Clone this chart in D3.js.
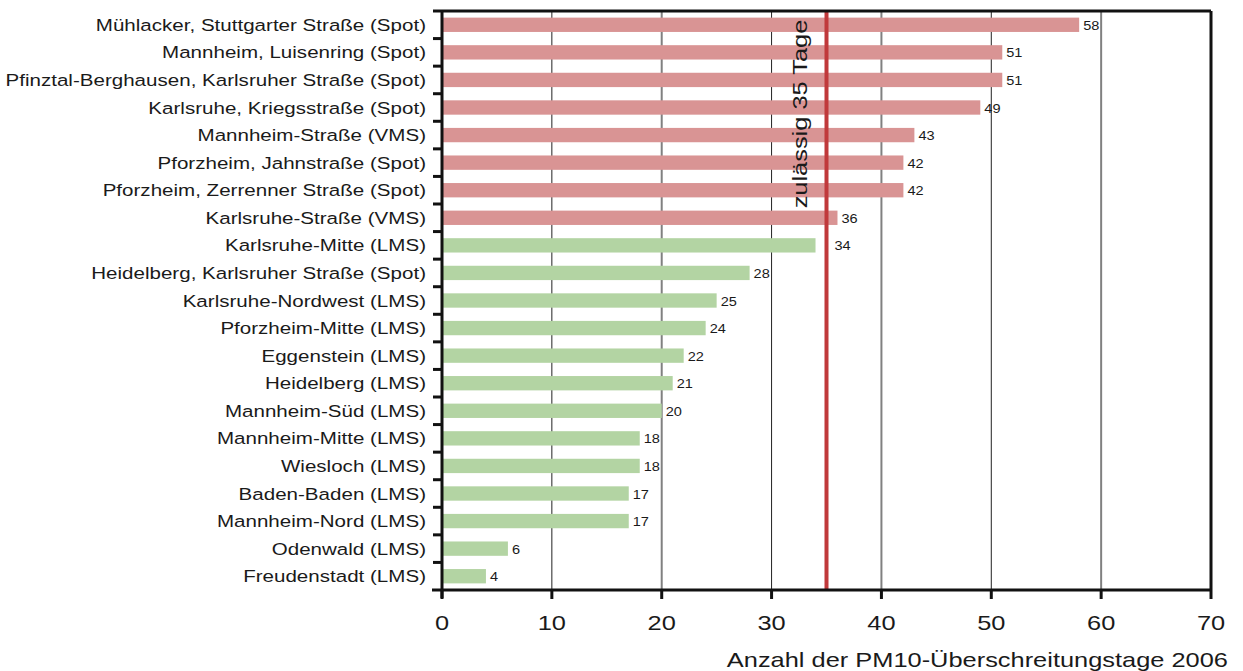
<!DOCTYPE html>
<html><head><meta charset="utf-8">
<script src="https://cdn.jsdelivr.net/npm/d3@7"></script>
<style>body{margin:0;background:#fff}svg text{font-family:"Liberation Sans",Arial,sans-serif}</style>
</head><body><svg id="c" width="1243" height="671"></svg>
<script>
const categories = ["Mühlacker, Stuttgarter Straße (Spot)","Mannheim, Luisenring (Spot)","Pfinztal-Berghausen, Karlsruher Straße (Spot)","Karlsruhe, Kriegsstraße (Spot)","Mannheim-Straße (VMS)","Pforzheim, Jahnstraße (Spot)","Pforzheim, Zerrenner Straße (Spot)","Karlsruhe-Straße (VMS)","Karlsruhe-Mitte (LMS)","Heidelberg, Karlsruher Straße (Spot)","Karlsruhe-Nordwest (LMS)","Pforzheim-Mitte (LMS)","Eggenstein (LMS)","Heidelberg (LMS)","Mannheim-Süd (LMS)","Mannheim-Mitte (LMS)","Wiesloch (LMS)","Baden-Baden (LMS)","Mannheim-Nord (LMS)","Odenwald (LMS)","Freudenstadt (LMS)"];
const values = [58,51,51,49,43,42,42,36,34,28,25,24,22,21,20,18,18,17,17,6,4];
const xTicks = [0,10,20,30,40,50,60,70];
const limit = 35;
const limitLabel = "zulässig 35 Tage";
const xTitle = "Anzahl der PM10-Überschreitungstage 2006";

const SX = 1.21; // horizontal stretch of the reference typeface
const svg = d3.select("#c");
const L=442, R=1211, T=11, B=590;
const x = d3.scaleLinear().domain([0,70]).range([L,R]);
const y = d3.scaleBand().domain(categories).range([T,B]).paddingInner(0.48).paddingOuter(0.24);

function stext(g, tx, ty, size, anchor, str){
  return g.append("text").attr("transform",`translate(${tx},${ty}) scale(${SX},1)`)
    .attr("text-anchor",anchor).attr("font-size",size).attr("fill","#1a1a1a").text(str);
}

// grid
svg.append("g").selectAll("line").data(xTicks.filter(d=>d>0&&d<70)).join("line")
  .attr("x1",d=>x(d)).attr("x2",d=>x(d)).attr("y1",T).attr("y2",B)
  .attr("stroke",(d,i)=>i%2===0?"#222":"#808080").attr("stroke-width",(d,i)=>i%2===0?1:2);

// bars
svg.append("g").selectAll("rect").data(values).join("rect")
  .attr("x",x(0)).attr("y",(d,i)=>y(categories[i]))
  .attr("width",d=>x(d)-x(0)).attr("height",y.bandwidth())
  .attr("fill",d=>d>limit?"#d99494":"#b3d4a3");

// value labels
const vg = svg.append("g");
values.forEach((d,i)=>{
  let lx = x(d)+4;
  if (d<=limit && x(d)+4+18 > x(limit)-2) lx = x(limit)+8;
  stext(vg, lx, y(categories[i])+y.bandwidth()/2+5, 13, "start", d).attr("font-size",13).attr("transform",`translate(${lx},${y(categories[i])+y.bandwidth()/2+5}) scale(1.12,1)`);
});

// limit line
svg.append("line").attr("x1",x(limit)).attr("x2",x(limit)).attr("y1",T).attr("y2",B)
  .attr("stroke","#c0393b").attr("stroke-width",4);
svg.append("text").attr("transform",`translate(${x(limit)-20},114) rotate(-90) scale(${SX},1)`)
  .attr("text-anchor","middle").attr("font-size",21).attr("fill","#1a1a1a").text(limitLabel);

// frame
svg.append("line").attr("x1",L).attr("x2",R).attr("y1",T).attr("y2",T).attr("stroke","#111").attr("stroke-width",3);
svg.append("line").attr("x1",R).attr("x2",R).attr("y1",T).attr("y2",B).attr("stroke","#111").attr("stroke-width",3);

// y axis
const ya = svg.append("g").attr("transform",`translate(${L},0)`);
ya.append("line").attr("x1",0).attr("x2",0).attr("y1",T).attr("y2",B+8).attr("stroke","#111").attr("stroke-width",3);
const step = y.step();
ya.selectAll("line.t").data(d3.range(categories.length)).join("line").attr("class","t")
  .attr("x1",-9).attr("x2",0)
  .attr("y1",i=>T+i*step).attr("y2",i=>T+i*step).attr("stroke","#111").attr("stroke-width",3);
const cg = svg.append("g");
categories.forEach(c=>stext(cg, 426, y(c)+y.bandwidth()/2+6, 17, "end", c));

// x axis
const xa = svg.append("g").attr("transform",`translate(0,${B})`);
xa.append("line").attr("x1",L-10).attr("x2",R+1).attr("stroke","#111").attr("stroke-width",3);
xa.selectAll("line.t").data(xTicks).join("line").attr("class","t")
  .attr("x1",d=>x(d)).attr("x2",d=>x(d)).attr("y1",0).attr("y2",9).attr("stroke","#111").attr("stroke-width",3);
xTicks.forEach(t=>stext(xa, x(t), 40, 21, "middle", t));
stext(svg, 1228, 667, 21, "end", xTitle);
</script></body></html>
